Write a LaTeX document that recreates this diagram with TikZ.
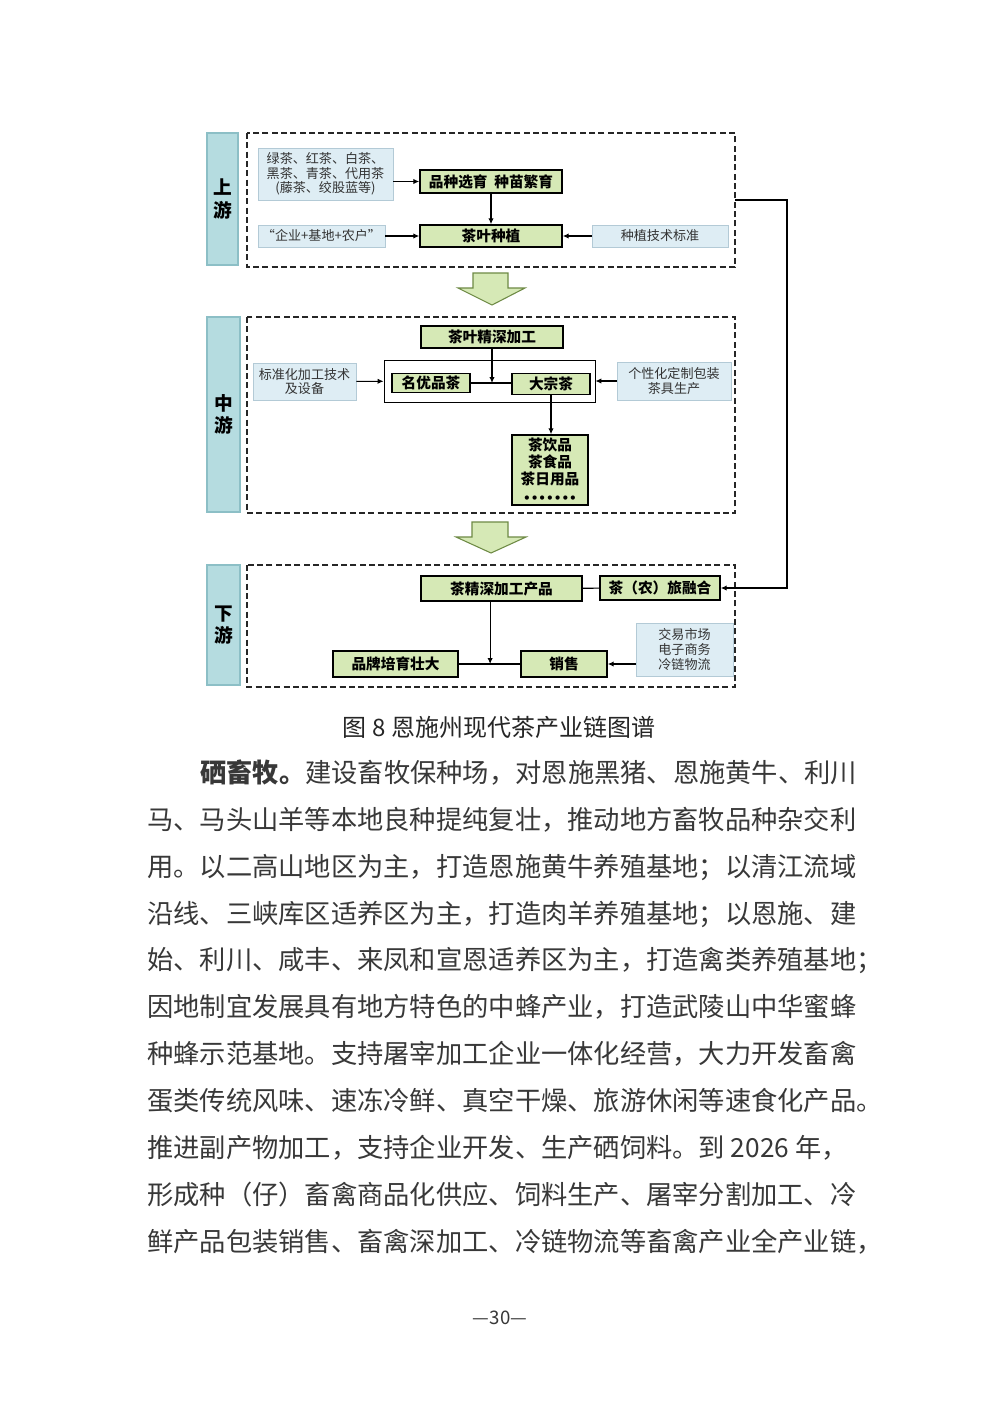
\documentclass[tikz,border=0pt]{standalone}
\usepackage{fontspec}
\usepackage{xcolor}
\usetikzlibrary{calc,positioning,arrows.meta}
\newfontfamily\cjk{Noto Sans CJK SC}
\newfontfamily\dotfont{DejaVu Sans}
\setmainfont{Noto Sans CJK SC}

\definecolor{lblfill}{HTML}{B5DCE0}
\definecolor{lbldraw}{HTML}{8CBFC6}
\definecolor{greenfill}{HTML}{D6E9B6}
\definecolor{bluefill}{HTML}{DEEDF4}
\definecolor{bluedraw}{HTML}{B3CAD6}
\definecolor{arrowdraw}{HTML}{6E8A45}
\definecolor{bodytext}{HTML}{383838}

\tikzset{
    stagelbl/.style={draw=lbldraw, fill=lblfill, line width=1pt, inner sep=0pt,
        align=center, font=\fontsize{14pt}{17pt}\selectfont\bfseries},
    stagebox/.style={draw=black!85, line width=1.1pt, dash pattern=on 4.5pt off 2.5pt},
    greenbox/.style={draw=black, fill=greenfill, line width=1.1pt, inner sep=0pt,
        align=center, font=\fontsize{11pt}{13pt}\selectfont\bfseries},
    bluebox/.style={draw=bluedraw, fill=bluefill, line width=0.6pt, inner sep=0pt,
        align=center, text=black!80, font=\fontsize{9.8pt}{11pt}\selectfont},
    arr/.style={-{Latex[length=4.5pt,width=4pt]}, line width=0.8pt},
    link/.style={line width=0.8pt},
    bigarrow/.style={draw=arrowdraw, fill=greenfill, line width=0.8pt},
    bodyline/.style={anchor=west, inner sep=0pt, text=bodytext,
        font=\fontsize{19.7pt}{20pt}\selectfont},
}

\begin{document}
\begin{tikzpicture}[x=0.75pt, y=-0.75pt]
    % 页面范围
    \useasboundingbox[fill=white] (0,0) rectangle (1000,1413);

    % 上游
    \node[stagelbl, minimum width=23.25pt, minimum height=99pt] (lblU) at (222.5,199) {上\\游};
    \draw[stagebox] (247,133) rectangle (735,267);
    \node[bluebox, minimum width=101.25pt, minimum height=39pt] (pz) at (325.5,174)
        {绿茶、红茶、白茶、\\黑茶、青茶、代用茶\\(藤茶、绞股蓝等)};
    \node[greenbox, minimum width=106.5pt, minimum height=17.25pt] (xy) at (491,181.5) {品种选育\ \ 种苗繁育};
    \node[bluebox, minimum width=95.25pt, minimum height=16.5pt] (mode) at (321.5,236) {“企业+基地+农户”};
    \node[greenbox, minimum width=106.5pt, minimum height=16.5pt] (zz) at (491,236) {茶叶种植};
    \node[bluebox, minimum width=102pt, minimum height=16.5pt] (bz) at (660,236) {种植技术标准};

    \draw[arr] (pz.east |- xy.west) -- (xy.west);
    \draw[arr] (xy) -- (zz);
    \draw[arr] (mode) -- (zz);
    \draw[arr] (bz) -- (zz);

    % 大箭头
    \draw[bigarrow] (473,273) -- (508,273) -- (508,288) -- (525,288) -- (492,305)
        -- (458,288) -- (473,288) -- cycle;

    % 中游
    \node[stagelbl, minimum width=24.75pt, minimum height=146.25pt] (lblM) at (223.5,414.5) {中\\游};
    \draw[stagebox] (247,317) rectangle (735,513);
    \node[greenbox, minimum width=106.5pt, minimum height=16.5pt] (jg) at (492,337) {茶叶精深加工};
    \node[draw=black, line width=0.6pt, fill=white, minimum width=158.25pt, minimum height=31.5pt] (inner) at (489.5,381) {};
    \node[greenbox, minimum width=58.5pt, minimum height=14.5pt] (my) at (431,383) {名优品茶};
    \node[greenbox, minimum width=58.5pt, minimum height=15.75pt] (dz) at (551,384) {大宗茶};
    \node[bluebox, minimum width=77.25pt, minimum height=27.75pt] (bzh) at (304.5,381.5) {标准化加工技术\\及设备};
    \node[bluebox, minimum width=85.5pt, minimum height=28.5pt] (gx) at (674,381) {个性化定制包装\\茶具生产};
    \node[greenbox, minimum width=57pt, minimum height=52.5pt, font=\fontsize{11pt}{13pt}\selectfont\bfseries]
        (cp) at (550,470) {茶饮品\\茶食品\\茶日用品\\{\dotfont\bfseries\fontsize{9pt}{10pt}\selectfont •••••••}};

    \draw[link] (my.east |- 0,383) -- (dz.west |- 0,383);
    \draw[arr] (jg.south) -- (jg.south |- 0,383);
    \draw[arr] (bzh) -- (inner);
    \draw[arr] (gx) -- (inner);
    \draw[arr] (dz.south) -- (dz.south |- cp.north);

    % 大箭头
    \draw[bigarrow] (472,522) -- (508,522) -- (508,537) -- (526,537) -- (491,553)
        -- (456,537) -- (472,537) -- cycle;

    % 下游
    \node[stagelbl, minimum width=24.75pt, minimum height=90pt] (lblD) at (223.5,625) {下\\游};
    \draw[stagebox] (247,565) rectangle (735,687);
    \node[greenbox, minimum width=120.75pt, minimum height=18.75pt] (jgcp) at (501.5,588.5) {茶精深加工产品};
    \node[greenbox, minimum width=90pt, minimum height=18pt] (lv) at (660,588) {茶（农）旅融合};
    \node[bluebox, minimum width=72.75pt, minimum height=39.75pt] (sc) at (684.5,649.5) {交易市场\\电子商务\\冷链物流};
    \node[greenbox, minimum width=64.5pt, minimum height=19.5pt] (xs) at (564,664) {销售};
    \node[greenbox, minimum width=93.75pt, minimum height=19.5pt] (pp) at (395.5,664) {品牌培育壮大};

    \coordinate (jgdrop) at ($(jgcp.south west)!0.43!(jgcp.south east)$);
    \draw[link] (jgcp) -- (lv);
    \draw[link] (pp) -- (xs);
    \draw[arr] (jgdrop) -- (jgdrop |- xs.west);
    \draw[arr] (sc.west |- xs.east) -- (xs.east);

    % 上游到下游的连线
    \coordinate (upOut) at (735,200);
    \coordinate (turnR) at (787,200);
    \draw[arr] (upOut) -- (turnR) |- (lv.east);

    % 图题
    \node[font=\fontsize{18pt}{20pt}\selectfont, text=black!85] (caption) at (499,727) {图 8 恩施州现代茶产业链图谱};

    % 正文
    \node[bodyline] (l1) at (200,773) {\textbf{硒畜牧。}建设畜牧保种场，对恩施黑猪、恩施黄牛、利川};
    \node[bodyline] (l2) at (147,820) {马、马头山羊等本地良种提纯复壮，推动地方畜牧品种杂交利};
    \node[bodyline] (l3) at (147,867) {用。以二高山地区为主，打造恩施黄牛养殖基地；以清江流域};
    \node[bodyline] (l4) at (147,914) {沿线、三峡库区适养区为主，打造肉羊养殖基地；以恩施、建};
    \node[bodyline] (l5) at (147,960) {始、利川、咸丰、来凤和宣恩适养区为主，打造禽类养殖基地；};
    \node[bodyline] (l6) at (147,1007) {因地制宜发展具有地方特色的中蜂产业，打造武陵山中华蜜蜂};
    \node[bodyline] (l7) at (147,1054) {种蜂示范基地。支持屠宰加工企业一体化经营，大力开发畜禽};
    \node[bodyline] (l8) at (147,1101) {蛋类传统风味、速冻冷鲜、真空干燥、旅游休闲等速食化产品。};
    \node[bodyline] (l9) at (147,1148) {推进副产物加工，支持企业开发、生产硒饲料。到 2026 年，};
    \node[bodyline] (l10) at (147,1195) {形成种（仔）畜禽商品化供应、饲料生产、屠宰分割加工、冷};
    \node[bodyline] (l11) at (147,1242) {鲜产品包装销售、畜禽深加工、冷链物流等畜禽产业全产业链，};

    % 页码
    \node[font=\fontsize{14pt}{16pt}\selectfont, text=bodytext] (pgno) at (500,1318) {—30—};
\end{tikzpicture}
\end{document}
